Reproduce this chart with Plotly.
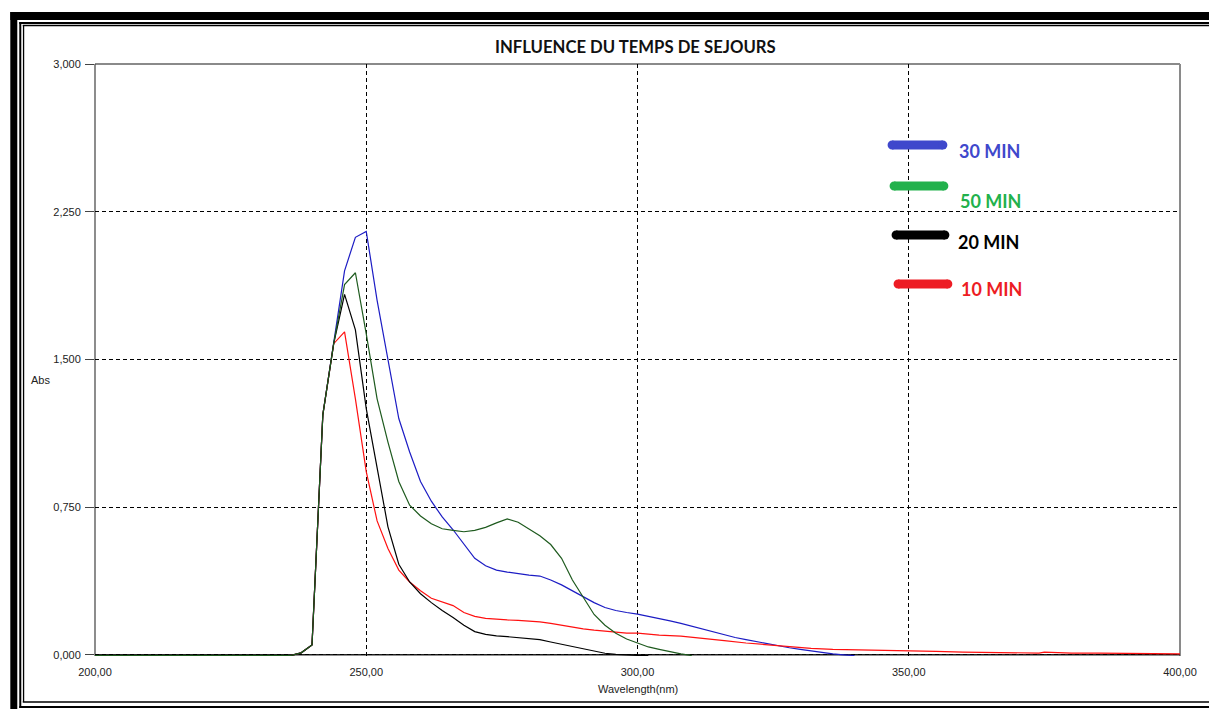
import plotly.graph_objects as go

# ---------------- data ----------------
series_names = ["30 MIN", "50 MIN", "20 MIN", "10 MIN"]

wl_30 = [200, 236, 238, 240, 242, 244, 246, 248, 250, 252, 254, 256, 258, 260, 262, 264, 266, 268,
         270, 272, 274, 276, 278, 280, 282, 284, 286, 288, 290, 292, 294, 296, 298, 300, 302, 304,
         306, 308, 310, 312, 314, 316, 318, 320, 322, 324, 326, 328, 330, 332, 334, 336, 338, 340]
abs_30 = [-0.004, -0.004, 0.01, 0.05, 1.22, 1.58, 1.95, 2.12, 2.15, 1.80, 1.49, 1.20, 1.03, 0.88,
          0.78, 0.70, 0.635, 0.56, 0.49, 0.452, 0.43, 0.42, 0.412, 0.405, 0.40, 0.38, 0.355, 0.325,
          0.295, 0.265, 0.24, 0.225, 0.215, 0.207, 0.195, 0.182, 0.172, 0.16, 0.145, 0.13, 0.115,
          0.10, 0.088, 0.077, 0.066, 0.056, 0.045, 0.036, 0.028, 0.02, 0.012, 0.005, 0.0, -0.004]

wl_50 = [200, 236, 238, 240, 242, 244, 246, 248, 250, 252, 254, 256, 258, 260, 262, 264, 266, 268,
         270, 272, 274, 276, 278, 280, 282, 284, 286, 288, 290, 292, 294, 296, 298, 300, 302, 304,
         306, 308, 310]
abs_50 = [-0.004, -0.004, 0.01, 0.05, 1.22, 1.58, 1.88, 1.94, 1.63, 1.30, 1.08, 0.88, 0.76, 0.705,
          0.665, 0.64, 0.632, 0.625, 0.632, 0.647, 0.67, 0.69, 0.673, 0.64, 0.605, 0.56, 0.49, 0.38,
          0.29, 0.205, 0.15, 0.11, 0.08, 0.06, 0.04, 0.028, 0.015, 0.005, -0.004]

wl_20 = [200, 236, 238, 240, 242, 244, 246, 248, 250, 252, 254, 256, 258, 260, 262, 264, 266, 268,
         270, 272, 274, 276, 278, 280, 282, 284, 286, 288, 290, 292, 294, 296, 298, 300, 302]
abs_20 = [-0.004, -0.004, 0.01, 0.05, 1.22, 1.58, 1.83, 1.65, 1.25, 0.94, 0.65, 0.46, 0.37, 0.31,
          0.265, 0.225, 0.19, 0.15, 0.118, 0.104, 0.096, 0.092, 0.087, 0.082, 0.077, 0.065, 0.053,
          0.042, 0.032, 0.02, 0.008, 0.002, -0.002, -0.003, -0.004]

wl_10 = [200, 236, 238, 240, 242, 244, 246, 248, 250, 252, 254, 256, 258, 260, 262, 264, 266, 268,
         270, 272, 274, 276, 278, 280, 282, 284, 286, 288, 290, 292, 294, 296, 298, 300, 304, 308,
         312, 316, 320, 324, 328, 332, 336, 340, 345, 350, 355, 360, 365, 370, 374, 375, 380, 385,
         390, 395, 400]
abs_10 = [-0.004, -0.004, 0.01, 0.05, 1.22, 1.58, 1.64, 1.30, 0.93, 0.68, 0.54, 0.43, 0.37, 0.325,
          0.287, 0.268, 0.25, 0.215, 0.195, 0.185, 0.18, 0.177, 0.175, 0.172, 0.167, 0.16, 0.15,
          0.14, 0.132, 0.125, 0.12, 0.115, 0.11, 0.11, 0.10, 0.095, 0.085, 0.072, 0.06, 0.05, 0.04,
          0.033, 0.028, 0.025, 0.022, 0.019, 0.017, 0.014, 0.012, 0.01, 0.009, 0.014, 0.009, 0.009,
          0.007, 0.006, 0.005]

x_ticks = [200, 250, 300, 350, 400]
y_ticks = [0.0, 0.75, 1.5, 2.25, 3.0]

# ---------------- styles ----------------
line_colors = {"30 MIN": "#1c1cc4", "50 MIN": "#1e5a1e", "20 MIN": "#000000", "10 MIN": "#ff1010"}
legend_colors = {"30 MIN": "#3f48cc", "50 MIN": "#22b14c", "20 MIN": "#000000", "10 MIN": "#ed1c24"}
# legend rows in pixel space: (bar x0, bar x1, bar y, text x, text y)
legend_pos = {"30 MIN": (895, 946, 145, 960, 151),
              "50 MIN": (897, 947, 186, 961, 201),
              "20 MIN": (899, 948, 235, 959, 242),
              "10 MIN": (901, 951, 284, 962, 289)}

W, H = 1209, 709
L, R, T, B = 95, 1184, 64, 656
Y_RANGE = [-0.006, 3.0]


def pxx(px):
    return (px - L) / (R - L)


def pxy(py):
    return (B - py) / (B - T)


fig = go.Figure()
data = {"30 MIN": (wl_30, abs_30), "10 MIN": (wl_10, abs_10),
        "20 MIN": (wl_20, abs_20), "50 MIN": (wl_50, abs_50)}
for name, (xs, ys) in data.items():
    fig.add_trace(go.Scatter(x=xs, y=ys, mode="lines", name=name,
                             line=dict(color=line_colors[name], width=1.2),
                             showlegend=False, hoverinfo="x+y+name"))

tick_font = dict(family="Liberation Sans Narrow, Arial Narrow, Liberation Sans, Arial", size=11,
                 color="#222222")

shapes = []
ann = []


def rect(x0, y0, x1, y1, color="black"):
    shapes.append(dict(type="rect", xref="paper", yref="paper",
                       x0=pxx(x0), x1=pxx(x1), y0=pxy(y1), y1=pxy(y0),
                       fillcolor=color, line=dict(width=0), layer="above"))


def hline(x0, x1, y, w, color="black"):
    shapes.append(dict(type="line", xref="paper", yref="paper",
                       x0=pxx(x0), x1=pxx(x1), y0=pxy(y), y1=pxy(y),
                       line=dict(color=color, width=w), layer="above"))


def vline(x, y0, y1, w, color="black"):
    shapes.append(dict(type="line", xref="paper", yref="paper",
                       x0=pxx(x), x1=pxx(x), y0=pxy(y0), y1=pxy(y1),
                       line=dict(color=color, width=w), layer="above"))


# outer decorative frame
rect(10, 12, 1215, 20)
rect(10, 12, 17, 712)
hline(19, 1215, 23, 2)
vline(20, 22, 708, 2)
hline(19, 1215, 707, 2)
hline(22.5, 1215, 25.5, 1.3)
vline(23.3, 25, 702, 1.3)
hline(22.5, 1215, 702, 1.3)

# plot border (gray top/right, dark left/bottom) drawn above the grid, below the curves
shapes.append(dict(type="line", xref="paper", yref="paper", x0=0, x1=1, y0=1, y1=1,
                   line=dict(color="#8a8a8a", width=2), layer="between"))
shapes.append(dict(type="line", xref="paper", yref="paper", x0=1, x1=1, y0=0, y1=1,
                   line=dict(color="#8a8a8a", width=2), layer="between"))
shapes.append(dict(type="line", xref="paper", yref="paper", x0=0, x1=0, y0=0, y1=1,
                   line=dict(color="#404040", width=1.2), layer="between"))
shapes.append(dict(type="line", xref="paper", yref="y", x0=0, x1=1, y0=0, y1=0,
                   line=dict(color="#202020", width=1.4), layer="between"))

# legend (thick rounded bars + coloured labels)
for name in series_names:
    bx0, bx1, by, tx, ty = legend_pos[name]
    col = legend_colors[name]
    shapes.append(dict(type="line", xref="paper", yref="paper",
                       x0=pxx(bx0), x1=pxx(bx1), y0=pxy(by), y1=pxy(by),
                       line=dict(color=col, width=9), layer="above"))
    for cx in (bx0, bx1):
        shapes.append(dict(type="circle", xref="paper", yref="paper",
                           x0=pxx(cx - 4.5), x1=pxx(cx + 4.5), y0=pxy(by + 4.5), y1=pxy(by - 4.5),
                           fillcolor=col, line=dict(width=0), layer="above"))
    ann.append(dict(xref="paper", yref="paper", x=pxx(tx), y=pxy(ty), text=name,
                    showarrow=False, xanchor="left", yanchor="middle",
                    font=dict(family="Lato, Carlito, Open Sans", size=18, color=col,
                              weight="bold")))

# title and axis titles
ann.append(dict(xref="paper", yref="paper", x=pxx(637), y=pxy(47.5),
                text="<b>INFLUENCE DU TEMPS DE SEJOURS</b>", showarrow=False,
                xanchor="center", yanchor="middle",
                font=dict(family="Lato, Carlito, Open Sans", size=16.7, color="#111111")))
ann.append(dict(xref="paper", yref="paper", x=pxx(40), y=pxy(380), text="Abs",
                showarrow=False, xanchor="center", yanchor="middle", font=tick_font))
ann.append(dict(xref="paper", yref="paper", x=pxx(640), y=pxy(689), text="Wavelength(nm)",
                showarrow=False, xanchor="center", yanchor="middle", font=tick_font))

fig.update_layout(
    width=W, height=H, autosize=False,
    margin=dict(l=L, r=W - R, t=T, b=H - B, pad=0),
    paper_bgcolor="white", plot_bgcolor="white",
    separators=", ",
    shapes=shapes, annotations=ann, showlegend=False,
    xaxis=dict(range=[200, 400], tickvals=x_ticks, tickformat=".2f", showgrid=True,
               gridcolor="black", griddash="4px,3px", gridwidth=1, zeroline=False,
               showline=False, ticks="", tickfont=tick_font, ticklabelstandoff=8),
    yaxis=dict(range=Y_RANGE, tickvals=y_ticks, tickformat=".3f", showgrid=True,
               gridcolor="black", griddash="4px,3px", gridwidth=1, zeroline=False,
               showline=False, ticks="outside", ticklen=9, tickcolor="#444444", tickwidth=1,
               tickfont=tick_font, ticklabelstandoff=2),
)

fig.write_html("out.html")
